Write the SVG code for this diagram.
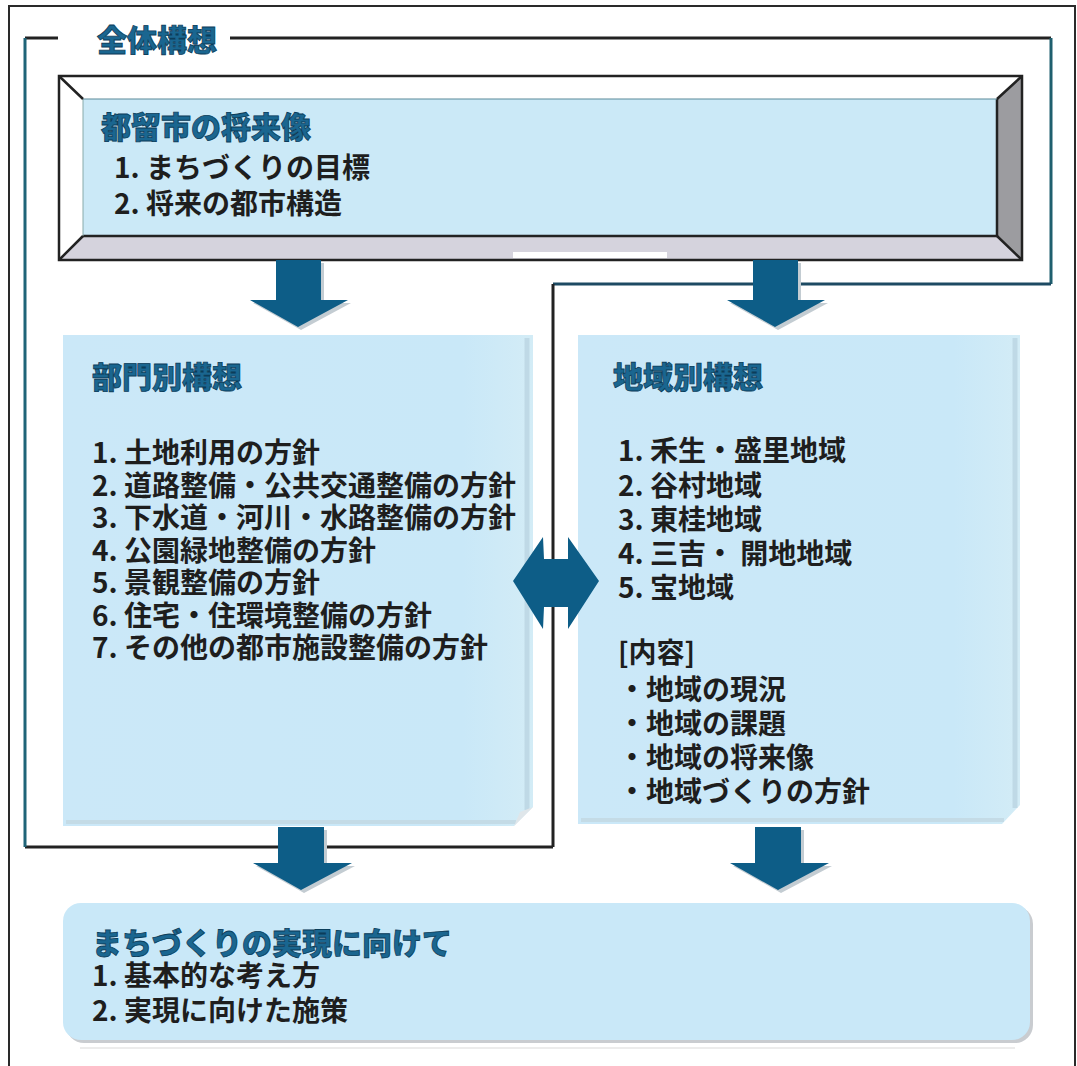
<svg xmlns="http://www.w3.org/2000/svg" width="1077" height="1066" viewBox="0 0 1077 1066">
<style>
.ttl{font-family:"Noto Sans CJK JP","Noto Sans",sans-serif;font-weight:900;fill:#1a6690;stroke:#0b3d5a;stroke-width:0.8;font-size:30px}
.itm{font-family:"Noto Sans CJK JP","Noto Sans",sans-serif;font-weight:700;fill:#1e1e1e;font-size:28px}
.arrow{fill:#0d5d87}
.shadow{fill:#c3ccd2}
.bev{stroke:#222;stroke-width:2.5;stroke-linejoin:miter}
</style>
<defs>
<linearGradient id="boxg" x1="0" y1="0" x2="1" y2="0">
<stop offset="0" stop-color="#cbe8f8"/>
<stop offset="0.85" stop-color="#c9e8f8"/>
<stop offset="1" stop-color="#d3ecf6"/>
</linearGradient>
</defs>
<rect width="1077" height="1066" fill="#fff"/>
<!-- outer frame -->
<g id="outer-frame" fill="none" stroke="#2a2a2a" stroke-width="2">
<path d="M9 1066 V6 H1075 V1066"/>
</g>
<!-- overall frame (全体構想) -->
<g id="overall-frame" fill="none" stroke-width="3">
<path d="M25 38 H58" stroke="#222"/>
<path d="M230 38 H1051" stroke="#222"/>
<path d="M1051 38 V284" stroke="#1f5f6e"/>
<path d="M1051 284 H553" stroke="#1d4a63"/>
<path d="M553 284 V847" stroke="#222"/>
<path d="M553 847 H25" stroke="#222"/>
<path d="M25 847 V38" stroke="#1f6478"/>
</g>
<g id="title-overall">
<text class="ttl" x="97" y="51">全体構想</text>
</g>
<!-- future image box -->
<g id="node-future">
<polygon points="59,76 1022,76 997,99 83,99" fill="#fff"/>
<polygon points="59,76 83,99 83,236 59,260" fill="#fff"/>
<polygon points="83,236 997,236 1022,260 59,260" fill="#d5d3dd"/>
<polygon points="997,99 1022,76 1022,260 997,236" fill="#9c9ca0"/>
<rect x="83" y="99" width="914" height="137" fill="#cbe9f7"/>
<rect x="513" y="252" width="154" height="6" fill="#fff"/>
<g class="bev" fill="none">
<rect x="59" y="76" width="963" height="184"/>
<path d="M83 236 H997 V99"/>
<path d="M83 99 V236" stroke-width="1" stroke="#8aa"/>
<path d="M83 99 H997" stroke-width="1.2" stroke="#5a8a9a"/>
<path d="M59 76 L83 99 M1022 76 L997 99 M59 260 L83 236 M1022 260 L997 236"/>
</g>
<text class="ttl" x="101" y="138">都留市の将来像</text>
<text class="itm" x="114" y="178">1. まちづくりの目標</text>
<text class="itm" x="114" y="214">2. 将来の都市構造</text>
</g>
<!-- sectoral box -->
<g id="node-sector">
<polygon points="63,335 533,335 533,807 514,826 63,826" fill="url(#boxg)"/>
<path d="M527 338 V810" stroke="#bfd9e6" stroke-width="5"/>
<path d="M66 822 H516" stroke="#c4dbe6" stroke-width="4"/>
<polygon points="533,807 514,826 520,812" fill="#dfe6ea"/>
<text class="ttl" x="92" y="388">部門別構想</text>
<text class="itm" x="92" y="463">1. 土地利用の方針</text>
<text class="itm" x="92" y="495.5">2. 道路整備・公共交通整備の方針</text>
<text class="itm" x="92" y="528">3. 下水道・河川・水路整備の方針</text>
<text class="itm" x="92" y="560.5">4. 公園緑地整備の方針</text>
<text class="itm" x="92" y="593">5. 景観整備の方針</text>
<text class="itm" x="92" y="625.5">6. 住宅・住環境整備の方針</text>
<text class="itm" x="92" y="658">7. その他の都市施設整備の方針</text>
</g>
<!-- regional box -->
<g id="node-region">
<polygon points="578,335 1020,335 1020,805 1002,824 578,824" fill="url(#boxg)"/>
<path d="M1015 338 V808" stroke="#bfd9e6" stroke-width="5"/>
<path d="M581 820 H1004" stroke="#c4dbe6" stroke-width="4"/>
<text class="ttl" x="613" y="388">地域別構想</text>
<text class="itm" x="618" y="461">1. 禾生・盛里地域</text>
<text class="itm" x="618" y="496">2. 谷村地域</text>
<text class="itm" x="618" y="530">3. 東桂地域</text>
<text class="itm" x="618" y="564">4. 三吉・ 開地地域</text>
<text class="itm" x="618" y="598">5. 宝地域</text>
<text class="itm" x="618" y="663">[内容]</text>
<text class="itm" x="618" y="700">・地域の現況</text>
<text class="itm" x="618" y="734">・地域の課題</text>
<text class="itm" x="618" y="768">・地域の将来像</text>
<text class="itm" x="618" y="802">・地域づくりの方針</text>
</g>
<!-- realization box -->
<g id="node-realize">
<rect x="66" y="906" width="967" height="137" rx="18" fill="#c9ccd0"/>
<rect x="63" y="903" width="967" height="137" rx="18" fill="#c9e8f8"/>
<path d="M80 1048 H1015" stroke="#ececec" stroke-width="2"/>
<text class="ttl" x="92" y="954">まちづくりの実現に向けて</text>
<text class="itm" x="92" y="986">1. 基本的な考え方</text>
<text class="itm" x="92" y="1021">2. 実現に向けた施策</text>
</g>
<!-- connectors -->
<g id="connectors">
<polygon class="shadow" points="279,263 324,263 324,303 351,303 301,330 253,303 279,303"/>
<polygon class="arrow" points="276,260 321,260 321,300 348,300 298,327 250,300 276,300"/>
<polygon class="shadow" points="756,263 801,263 801,303 828,303 778,330 730,303 756,303"/>
<polygon class="arrow" points="753,260 798,260 798,300 825,300 775,327 727,300 753,300"/>
<polygon class="shadow" points="281,830 327,830 327,866 355,866 304,893 256,866 281,866"/>
<polygon class="arrow" points="278,827 324,827 324,863 352,863 301,890 253,863 278,863"/>
<polygon class="shadow" points="758,830 804,830 804,866 832,866 781,893 733,866 758,866"/>
<polygon class="arrow" points="755,827 801,827 801,863 829,863 778,890 730,863 755,863"/>
<polygon class="arrow" points="513,581 543,537 544,559 568,559 568,537 599,581 568,629 568,607 544,607 543,629"/>
</g>
</svg>
